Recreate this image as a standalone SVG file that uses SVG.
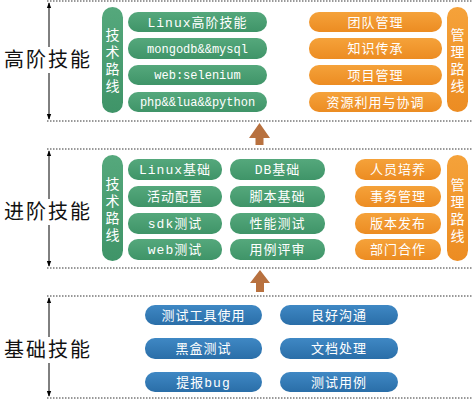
<svg xmlns="http://www.w3.org/2000/svg" width="473" height="400" viewBox="0 0 473 400">
<defs>
<style>
.dot{stroke:#333;stroke-width:1;stroke-dasharray:1.5 1.5;fill:none}
.vline{stroke:#000;stroke-width:1;fill:none}
.lvl{font-family:"Liberation Sans","Noto Sans CJK SC",sans-serif;font-size:20px;fill:#111;letter-spacing:2px}
.g{fill:url(#gg)}
.o{fill:url(#og)}
.b{fill:url(#bg)}
.t{font-family:"Liberation Mono","Noto Sans CJK SC",monospace;font-size:13px;fill:#fff;text-anchor:middle;letter-spacing:1px}
.tl{font-family:"Liberation Mono","Noto Sans CJK SC",monospace;font-size:12px;fill:#fff;text-anchor:middle}
.v{font-family:"Noto Sans CJK SC",sans-serif;font-size:14px;fill:#fff;text-anchor:middle;writing-mode:vertical-rl;letter-spacing:3px}
.up{fill:#b8713f}
</style>
<linearGradient id="gg" x1="0" y1="0" x2="0" y2="1"><stop offset="0" stop-color="#55a87c"/><stop offset="1" stop-color="#3f9468"/></linearGradient>
<linearGradient id="og" x1="0" y1="0" x2="0" y2="1"><stop offset="0" stop-color="#f5a23a"/><stop offset="1" stop-color="#ec8c22"/></linearGradient>
<linearGradient id="bg" x1="0" y1="0" x2="0" y2="1"><stop offset="0" stop-color="#3f88c4"/><stop offset="1" stop-color="#2a6ea8"/></linearGradient>
<marker id="ah" viewBox="0 0 8 8" refX="7" refY="4" markerWidth="6" markerHeight="6" orient="auto-start-reverse"><path d="M0,1 L8,4 L0,7 z" fill="#000"/></marker>
</defs>
<rect width="473" height="400" fill="#fff"/>

<g id="separators">
<line class="dot" x1="47" y1="1" x2="473" y2="1"/>
<line class="dot" x1="47" y1="121" x2="473" y2="121"/>
<line class="dot" x1="47" y1="149" x2="473" y2="149"/>
<line class="dot" x1="47" y1="268" x2="473" y2="268"/>
<line class="dot" x1="47" y1="296" x2="473" y2="296"/>
<line class="dot" x1="47" y1="398" x2="473" y2="398"/>
</g>

<g id="connectors">
<line class="vline" x1="49" y1="47" x2="49" y2="3" marker-end="url(#ah)"/>
<line class="vline" x1="49" y1="73" x2="49" y2="119" marker-end="url(#ah)"/>
<line class="vline" x1="49" y1="199" x2="49" y2="151" marker-end="url(#ah)"/>
<line class="vline" x1="49" y1="225" x2="49" y2="266" marker-end="url(#ah)"/>
<line class="vline" x1="49" y1="337" x2="49" y2="298" marker-end="url(#ah)"/>
<line class="vline" x1="49" y1="363" x2="49" y2="396" marker-end="url(#ah)"/>
<polygon class="up" points="259.5,123 270,138 263.5,138 263.5,145 255.5,145 255.5,138 249,138"/>
<polygon class="up" points="260,270 270,283 264,283 264,292 256,292 256,283 250,283"/>
</g>

<g id="level-high">
<text class="lvl" x="4" y="67">高阶技能</text>
<g id="high-tech">
<rect class="g" x="102" y="7" width="21" height="106" rx="10.5"/>
<text class="v" x="112.5" y="62">技术路线</text>
<rect class="g" x="128" y="12" width="139" height="20" rx="10"/>
<text class="t" x="197.5" y="26.5">Linux高阶技能</text>
<rect class="g" x="128" y="38" width="139" height="21" rx="10"/>
<text class="tl" x="197.5" y="52.5">mongodb&amp;&amp;mysql</text>
<rect class="g" x="128" y="65" width="139" height="20" rx="10"/>
<text class="tl" x="197.5" y="79">web:selenium</text>
<rect class="g" x="128" y="92" width="139" height="20" rx="10"/>
<text class="tl" x="197.5" y="106">php&amp;&amp;lua&amp;&amp;python</text>
</g>
<g id="high-mgmt">
<rect class="o" x="309" y="12" width="133" height="20" rx="10"/>
<text class="t" x="375.5" y="26.5">团队管理</text>
<rect class="o" x="309" y="38" width="133" height="21" rx="10"/>
<text class="t" x="375.5" y="53">知识传承</text>
<rect class="o" x="309" y="65" width="133" height="20" rx="10"/>
<text class="t" x="375.5" y="79.5">项目管理</text>
<rect class="o" x="309" y="92" width="133" height="20" rx="10"/>
<text class="t" x="375.5" y="106.5">资源利用与协调</text>
<rect class="o" x="447" y="7" width="21" height="105" rx="10.5"/>
<text class="v" x="457.5" y="62">管理路线</text>
</g>
</g>

<g id="level-mid">
<text class="lvl" x="4" y="219">进阶技能</text>
<g id="mid-tech">
<rect class="g" x="102" y="155" width="21" height="106" rx="10.5"/>
<text class="v" x="112.5" y="211">技术路线</text>
<rect class="g" x="128" y="159" width="94" height="21" rx="10"/>
<text class="t" x="175" y="174">Linux基础</text>
<rect class="g" x="128" y="186" width="94" height="21" rx="10"/>
<text class="t" x="175" y="201">活动配置</text>
<rect class="g" x="128" y="213" width="94" height="21" rx="10"/>
<text class="t" x="175" y="228">sdk测试</text>
<rect class="g" x="128" y="239" width="94" height="21" rx="10"/>
<text class="t" x="175" y="254">web测试</text>
<rect class="g" x="230" y="159" width="95" height="21" rx="10"/>
<text class="t" x="277.5" y="174">DB基础</text>
<rect class="g" x="230" y="186" width="95" height="21" rx="10"/>
<text class="t" x="277.5" y="201">脚本基础</text>
<rect class="g" x="230" y="213" width="95" height="21" rx="10"/>
<text class="t" x="277.5" y="228">性能测试</text>
<rect class="g" x="230" y="239" width="95" height="21" rx="10"/>
<text class="t" x="277.5" y="254">用例评审</text>
</g>
<g id="mid-mgmt">
<rect class="o" x="355" y="159" width="86" height="21" rx="10"/>
<text class="t" x="398" y="174">人员培养</text>
<rect class="o" x="355" y="186" width="86" height="21" rx="10"/>
<text class="t" x="398" y="201">事务管理</text>
<rect class="o" x="355" y="213" width="86" height="21" rx="10"/>
<text class="t" x="398" y="228">版本发布</text>
<rect class="o" x="355" y="239" width="86" height="21" rx="10"/>
<text class="t" x="398" y="254">部门合作</text>
<rect class="o" x="447" y="155" width="21" height="106" rx="10.5"/>
<text class="v" x="457.5" y="212">管理路线</text>
</g>
</g>

<g id="level-base">
<text class="lvl" x="4" y="357">基础技能</text>
<rect class="b" x="145" y="305" width="117" height="20" rx="10"/>
<text class="t" x="203.5" y="319.5">测试工具使用</text>
<rect class="b" x="280" y="305" width="118" height="20" rx="10"/>
<text class="t" x="339" y="319.5">良好沟通</text>
<rect class="b" x="145" y="338" width="117" height="21" rx="10"/>
<text class="t" x="203.5" y="353">黑盒测试</text>
<rect class="b" x="280" y="338" width="118" height="21" rx="10"/>
<text class="t" x="339" y="353">文档处理</text>
<rect class="b" x="145" y="372" width="117" height="20" rx="10"/>
<text class="t" x="203.5" y="386.5">提报bug</text>
<rect class="b" x="280" y="372" width="118" height="20" rx="10"/>
<text class="t" x="339" y="386.5">测试用例</text>
</g>
</svg>
